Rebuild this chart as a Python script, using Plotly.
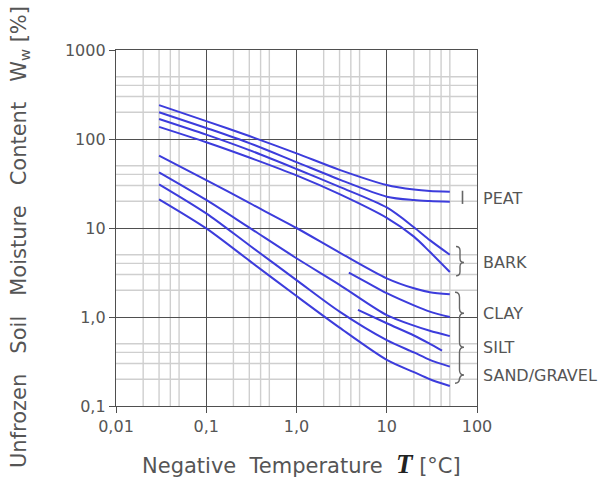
import math
import plotly.graph_objects as go

# ---------------- data ----------------
T_long = [0.03, 0.1, 0.3, 1, 3, 10, 20, 30, 50]
peat_upper = [240, 159, 108, 69, 45, 30.4, 27, 26, 25.5]
peat_lower = [200, 133, 90, 55, 35, 22.5, 20.6, 20.1, 19.7]
bark_upper = [168, 112, 75, 46, 29, 17, 10.2, 7.3, 5.0]
bark_lower = [137, 92, 62, 39, 24, 13, 8.0, 5.4, 3.2]
clay_upper = [65, 34.6, 19.1, 10, 5.3, 2.72, 2.1, 1.9, 1.8]
silt_upper = [42.3, 20.7, 10.1, 4.57, 2.3, 1.05, 0.8, 0.7, 0.61]
sand_upper = [31, 14.6, 6.4, 2.6, 1.15, 0.55, 0.4, 0.33, 0.277]
sand_lower = [21, 9.9, 4.3, 1.72, 0.76, 0.33, 0.24, 0.2, 0.168]

T_clay_lower = [3.8, 6, 10, 20, 30, 50]
clay_lower = [3.15, 2.45, 1.85, 1.35, 1.15, 1.0]
T_silt_lower = [4.8, 10, 20, 30, 41]
silt_lower = [1.2, 0.85, 0.62, 0.5, 0.42]

x_tickvals = [0.01, 0.1, 1, 10, 100]
x_ticktext = ["0,01", "0,1", "1,0", "10", "100"]
y_tickvals = [0.1, 1, 10, 100, 1000]
y_ticktext = ["0,1", "1,0", "10", "100", "1000"]
minor_steps = [2, 3, 4, 5]

labels = ["PEAT", "BARK", "CLAY", "SILT", "SAND/GRAVEL"]
label_levels = [21.6, 4.1, 1.10, 0.457, 0.223]

LINE_COLOR = "#3c3cdc"
TXT = "#555555"
FONT = "DejaVu Sans"

series = [
    (T_long, peat_upper), (T_long, peat_lower),
    (T_long, bark_upper), (T_long, bark_lower),
    (T_long, clay_upper), (T_clay_lower, clay_lower),
    (T_long, silt_upper), (T_silt_lower, silt_lower),
    (T_long, sand_upper), (T_long, sand_lower),
]

fig = go.Figure()
for xs, ys in series:
    fig.add_trace(go.Scatter(
        x=xs, y=ys, mode="lines",
        line=dict(color=LINE_COLOR, width=2, shape="spline", smoothing=0.8),
        showlegend=False, hoverinfo="skip"))

X_RANGE = [-2, 2]
Y_RANGE = [-1, 3]

axis_common = dict(
    type="log", showgrid=True, gridcolor="#4f4f4f", gridwidth=1.3,
    showline=True, linecolor="#4f4f4f", linewidth=1.4, mirror=True,
    ticks="outside", ticklen=6, tickcolor="#4f4f4f", tickwidth=1.2,
    tickmode="array", zeroline=False,
    tickfont=dict(family=FONT, size=16, color=TXT),
)
fig.update_xaxes(**axis_common, range=X_RANGE, tickvals=x_tickvals, ticktext=x_ticktext)
fig.update_yaxes(**axis_common, range=Y_RANGE, tickvals=y_tickvals, ticktext=y_ticktext)

# plot-area geometry (pixels) used for decorations
L, R, TOP, BOT = 116, 477, 50, 406
W_PX, H_PX = R - L, BOT - TOP

def pxx(x):
    return (x - L) / W_PX

def pxv(v):  # data value on log x axis -> paper
    return (math.log10(v) - X_RANGE[0]) / (X_RANGE[1] - X_RANGE[0])

def pyv(v):  # data value on log y axis -> paper
    return (math.log10(v) - Y_RANGE[0]) / (Y_RANGE[1] - Y_RANGE[0])

def pyp(y):  # pixel y -> paper
    return (BOT - y) / H_PX

shapes = []
# minor grid (2,3,4,5 in each decade) below the major grid
for e in range(X_RANGE[0], X_RANGE[1]):
    for k in minor_steps:
        p = pxv(k * 10 ** e)
        shapes.append(dict(type="line", xref="paper", yref="paper", x0=p, x1=p,
                           y0=0, y1=1, layer="below",
                           line=dict(color="#cfcfcf", width=1.4)))
for e in range(Y_RANGE[0], Y_RANGE[1]):
    for k in minor_steps:
        p = pyv(k * 10 ** e)
        shapes.append(dict(type="line", xref="paper", yref="paper", x0=0, x1=1,
                           y0=p, y1=p, layer="below",
                           line=dict(color="#cfcfcf", width=1.4)))

annotations = []
for lab, lev in zip(labels, label_levels):
    annotations.append(dict(
        text=lab, x=pxx(481), xref="paper", y=pyv(lev), yref="paper",
        xanchor="left", yanchor="middle", showarrow=False,
        font=dict(family=FONT, size=16, color=TXT)))

annotations.append(dict(
    text="Negative\u00a0\u00a0Temperature\u00a0\u00a0"
         "<span style='font-family:Liberation Serif;font-size:27px;color:#222'><b><i>T</i></b></span>"
         "\u00a0[°C]",
    x=pxx(301), xref="paper", y=pyp(464), yref="paper",
    xanchor="center", yanchor="middle", showarrow=False,
    font=dict(family=FONT, size=21, color=TXT)))

annotations.append(dict(
    text="Unfrozen\u00a0\u00a0\u00a0Soil\u00a0\u00a0\u00a0Moisture\u00a0\u00a0\u00a0"
         "Content\u00a0\u00a0\u00a0W<sub>w</sub>\u00a0[%]",
    x=pxx(20), xref="paper", y=pyp(237), yref="paper", textangle=-90,
    xanchor="center", yanchor="middle", showarrow=False,
    font=dict(family=FONT, size=21, color=TXT)))

# braces / markers
def brace(x0, x1, x2, top, bot, tips, q=4):
    """'}'-shaped brace in pixel units; tips are pixel y of right points."""
    def P(x, y):
        return f"{pxx(x):.5f},{pyp(y):.5f}"
    d = f"M {P(x0, top)} Q {P(x1, top)} {P(x1, top + q)}"
    for ty in tips:
        d += f" L {P(x1, ty - q)} Q {P(x1, ty)} {P(x2, ty)} Q {P(x1, ty)} {P(x1, ty + q)}"
    d += f" L {P(x1, bot - q)} Q {P(x1, bot)} {P(x0, bot)}"
    return d

def vpx(v):
    return BOT - pyv(v) * H_PX

shapes += [
    dict(type="line", xref="paper", yref="paper",
         x0=pxx(462.5), x1=pxx(462.5), y0=pyv(peat_upper[-1]) + 0.003,
         y1=pyv(peat_lower[-1]) - 0.006, line=dict(color="#666", width=1.6)),
    dict(type="path", xref="paper", yref="paper",
         path=brace(456, 460, 464, vpx(6.2), vpx(2.9), [vpx(label_levels[1])], q=4),
         line=dict(color="#666", width=1.4)),
    dict(type="path", xref="paper", yref="paper",
         path=brace(455, 459.5, 464, vpx(1.9), vpx(0.18),
                    [vpx(v) for v in label_levels[2:]], q=5),
         line=dict(color="#666", width=1.4)),
]

fig.update_layout(
    width=603, height=479, autosize=False,
    margin=dict(l=L, r=603 - R, t=TOP, b=479 - BOT, pad=0),
    paper_bgcolor="white", plot_bgcolor="white",
    annotations=annotations, shapes=shapes,
    showlegend=False,
)

fig.write_html("out.html")
